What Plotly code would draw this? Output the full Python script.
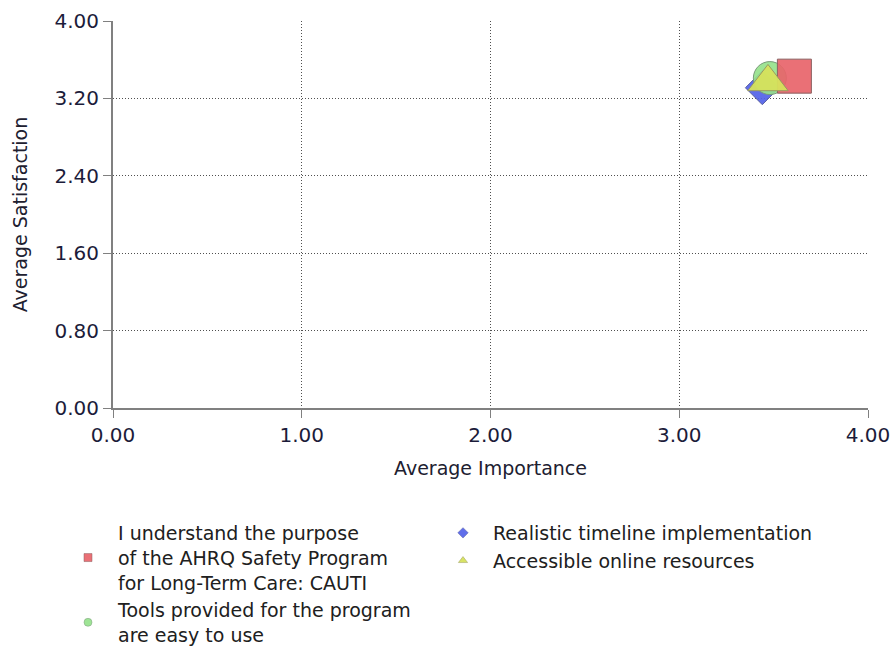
import plotly.graph_objects as go

series_names = [
    "I understand the purpose<br>of the AHRQ Safety Program<br>for Long-Term Care: CAUTI",
    "Tools provided for the program<br>are easy to use",
    "Realistic timeline implementation",
    "Accessible online resources",
]
importance = [3.61, 3.48, 3.44, 3.47]
satisfaction = [3.43, 3.41, 3.31, 3.37]
symbols = ["square", "circle", "diamond", "triangle-up"]
fills = ["rgba(232,100,106,0.92)", "rgba(150,226,140,0.92)", "rgba(82,98,232,0.92)", "rgba(214,226,92,0.95)"]
borders = ["#8a6060", "#7a9a7a", "#5a60a0", "#9a9a60"]
sizes = [34, 33, 26, 35]
legend_column = ["legend", "legend", "legend2", "legend2"]
draw_order = [2, 1, 0, 3]

x_ticks = [0, 1, 2, 3, 4]
y_ticks = [0, 0.8, 1.6, 2.4, 3.2, 4.0]

fig = go.Figure()
for i in draw_order:
    fig.add_trace(go.Scatter(
        x=[importance[i]], y=[satisfaction[i]], mode="markers",
        marker=dict(symbol=symbols[i], size=sizes[i], color=fills[i],
                    line=dict(color=borders[i], width=1)),
        showlegend=False, name=series_names[i]))
for i in range(4):
    fig.add_trace(go.Scatter(
        x=[None], y=[None], mode="markers", name=series_names[i],
        legend=legend_column[i],
        marker=dict(symbol=symbols[i], size=8, color=fills[i],
                    line=dict(color=borders[i], width=0.5))))

axis_common = dict(
    showline=True, linecolor="#808080", linewidth=2,
    ticks="outside", ticklen=8, tickcolor="#808080", tickwidth=1,
    showgrid=True, gridcolor="#505050", griddash="1px,2px", gridwidth=1,
    zeroline=False, tickformat=".2f", automargin=False,
    tickfont=dict(family="DejaVu Sans", size=20, color="#1c1c3a"),
)
title_font = dict(family="DejaVu Sans", size=19, color="#202030")
fig.update_xaxes(range=[0, 4], tickvals=x_ticks,
                 title=dict(text="Average Importance", font=title_font, standoff=16),
                 **axis_common)
fig.update_yaxes(range=[0, 4], tickvals=y_ticks,
                 title=dict(text="Average Satisfaction", font=title_font, standoff=22),
                 **axis_common)

W, H = 892, 648
ML, MR, MT, MB = 113, 24, 21, 240
PW = W - ML - MR
legend_font = dict(family="DejaVu Sans", size=19, color="#202020")
legend_common = dict(orientation="v", xref="paper", yref="container",
                     xanchor="left", yanchor="top", traceorder="normal",
                     font=legend_font, itemsizing="trace", itemwidth=50,
                     bgcolor="rgba(0,0,0,0)", tracegroupgap=0)
fig.update_layout(
    template="none",
    width=W, height=H,
    margin=dict(l=ML, r=MR, t=MT, b=MB),
    plot_bgcolor="white", paper_bgcolor="white",
    legend=dict(x=(58 - ML) / PW, y=1 - 514 / H, **legend_common),
    legend2=dict(x=(433 - ML) / PW, y=1 - 514 / H, **legend_common),
    showlegend=True,
)
fig.write_html("out.html", config={"displayModeBar": False},
               post_script="document.body.style.margin='0';")
